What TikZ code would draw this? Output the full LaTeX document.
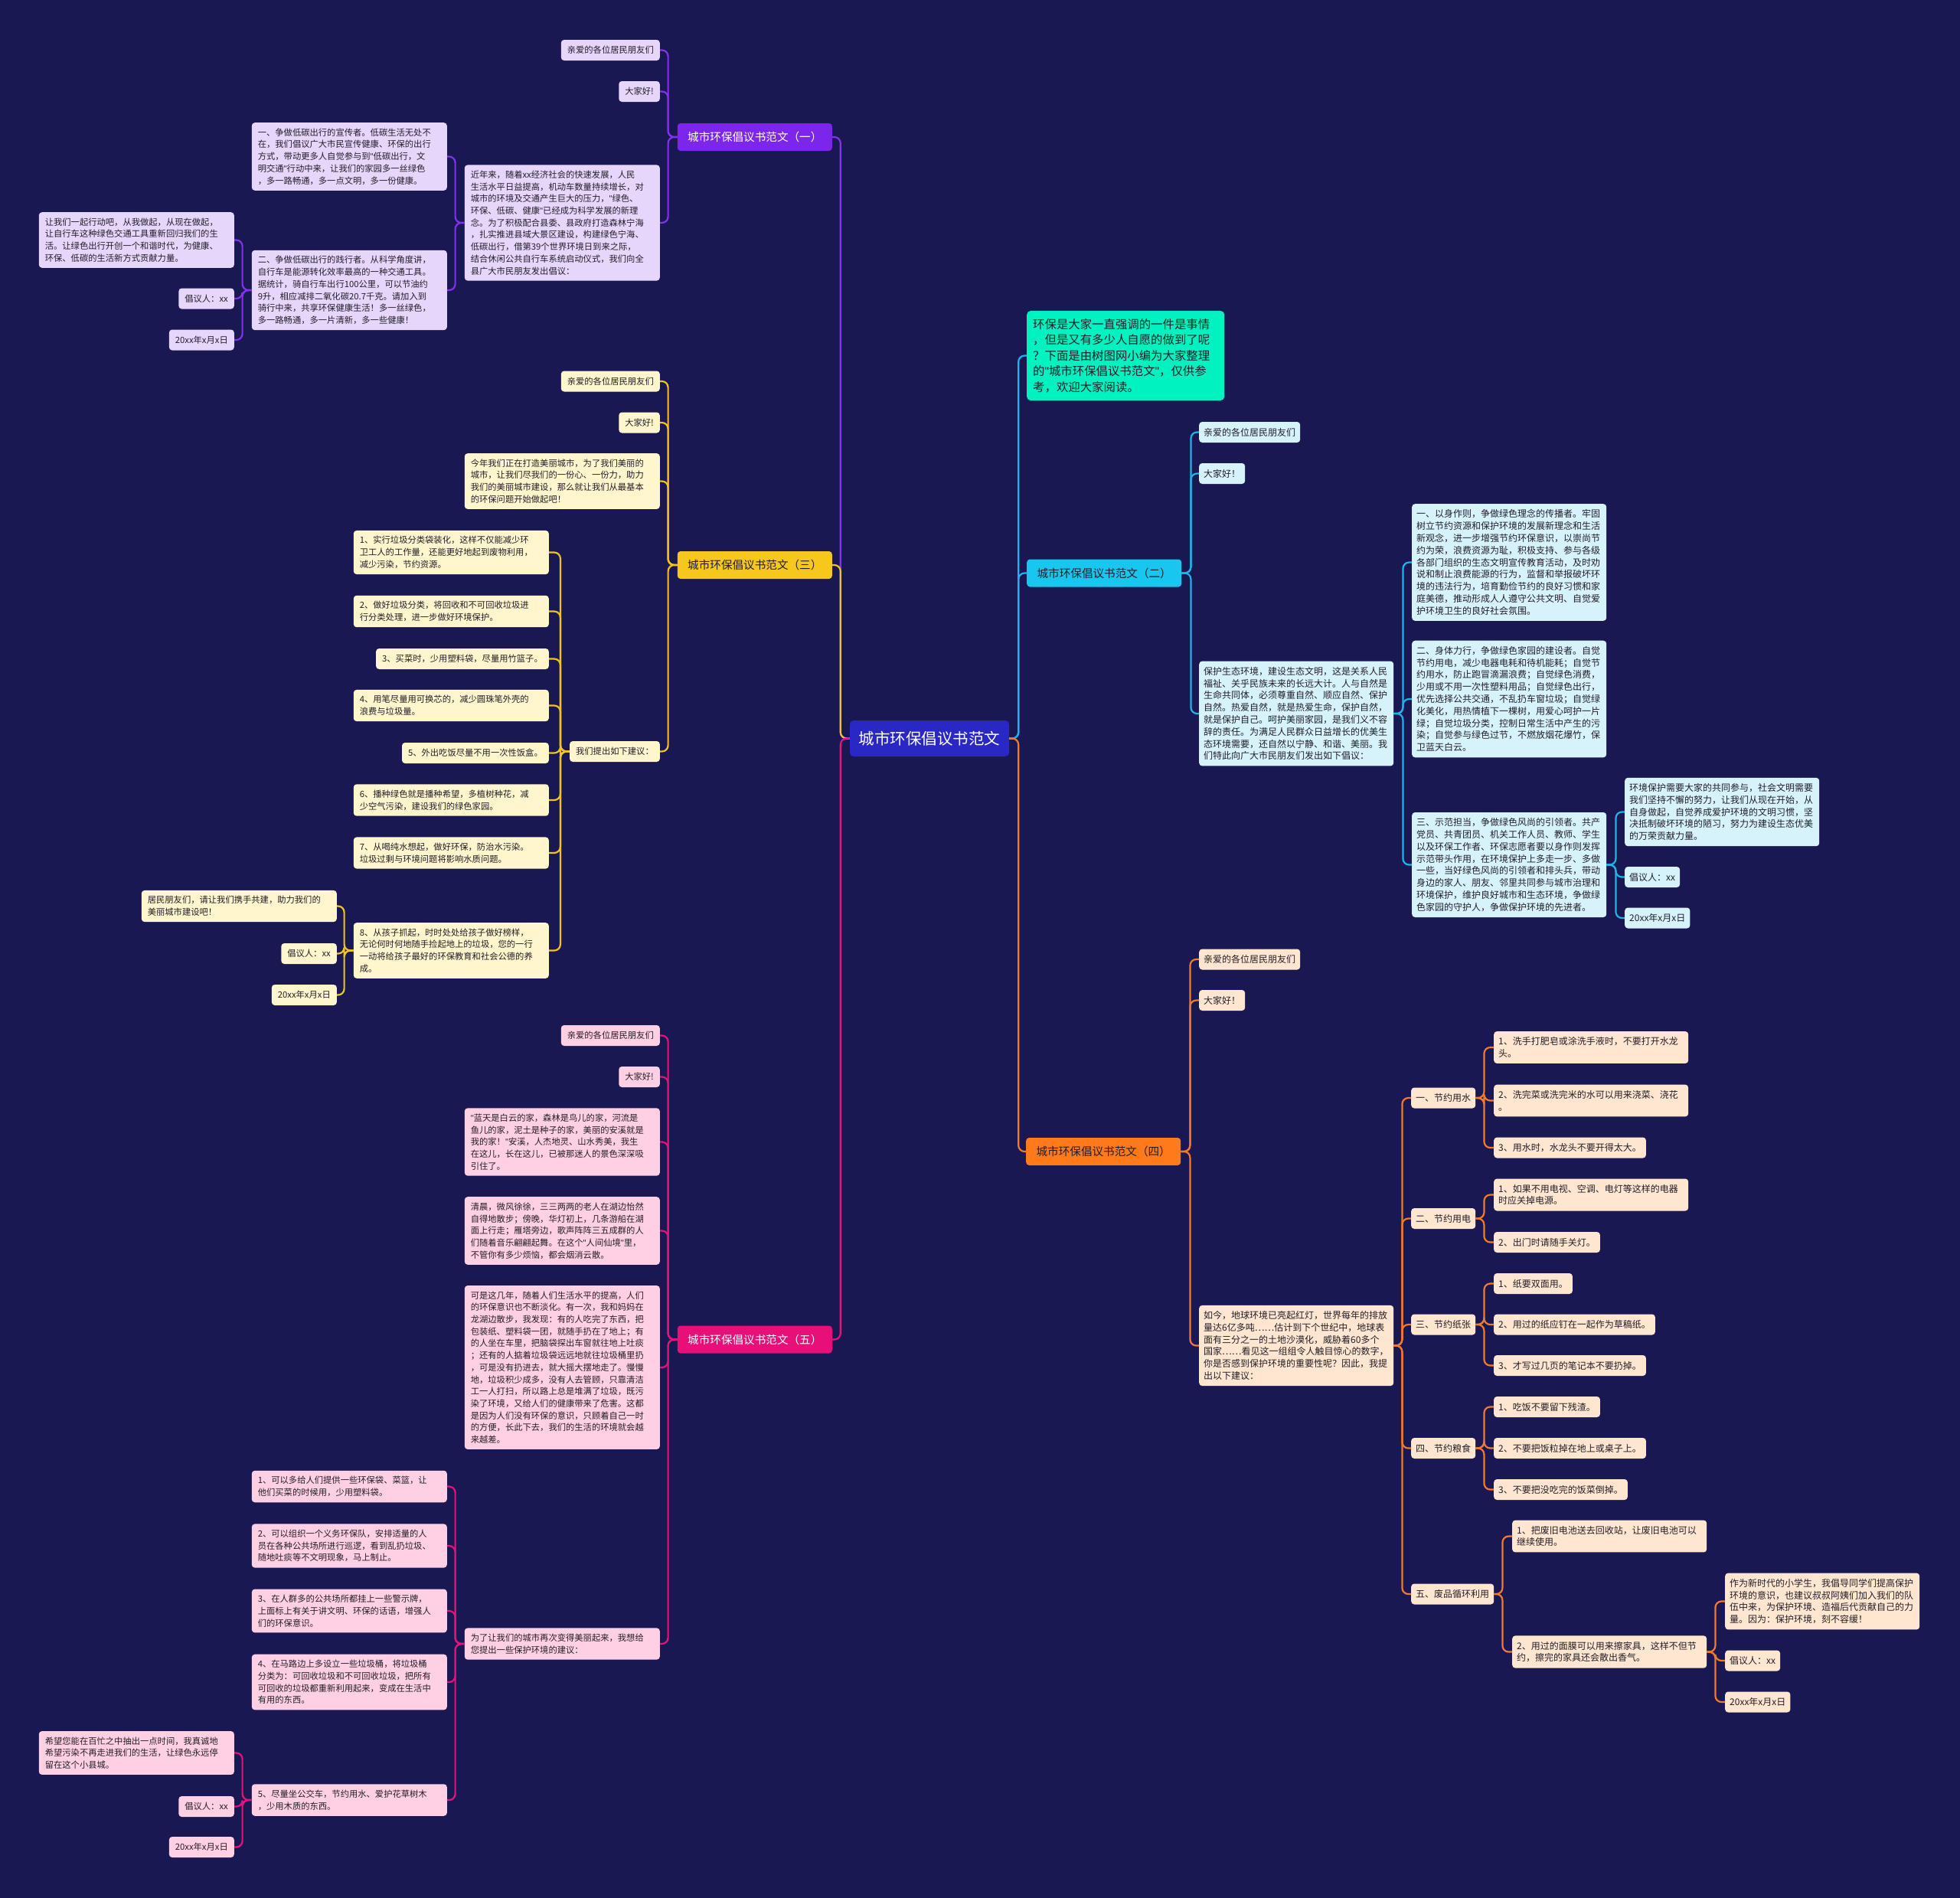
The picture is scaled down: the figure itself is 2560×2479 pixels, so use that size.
\documentclass[tikz,border=0pt]{standalone}
\usepackage{fontspec}
\setmainfont{Noto Sans CJK SC}
\newfontfamily\qfont{Liberation Sans}
\newcommand\qmark{{\qfont"}}
\usepackage{xcolor}
\usepackage{tikz}

\definecolor{bgnavy}{RGB}{26,24,82}
\definecolor{rootblue}{RGB}{42,40,196}
\definecolor{mintc}{RGB}{0,242,192}
\definecolor{txtdark}{RGB}{34,30,40}
\definecolor{purpleT}{RGB}{125,38,235}
\definecolor{purpleL}{RGB}{230,214,252}
\definecolor{purpleLn}{RGB}{130,50,235}
\definecolor{yellowT}{RGB}{246,200,30}
\definecolor{yellowL}{RGB}{255,246,205}
\definecolor{yellowLn}{RGB}{240,196,30}
\definecolor{pinkT}{RGB}{232,16,120}
\definecolor{pinkL}{RGB}{255,208,228}
\definecolor{pinkLn}{RGB}{226,20,124}
\definecolor{cyanT}{RGB}{24,198,238}
\definecolor{cyanL}{RGB}{214,243,251}
\definecolor{cyanLn}{RGB}{30,180,232}
\definecolor{orangeT}{RGB}{255,122,26}
\definecolor{orangeL}{RGB}{255,230,208}
\definecolor{orangeLn}{RGB}{240,122,45}

\begin{document}
\begin{tikzpicture}[x=1pt, y=-1pt,
            leaf/.style={rectangle, rounded corners=4pt, text=txtdark,
                    font=\fontsize{11.3}{15.7}\selectfont, align=left,
                    inner xsep=8pt, inner ysep=7.5pt, minimum height=27pt},
            leafR/.style={leaf, font=\fontsize{12}{15.8}\selectfont, inner xsep=6pt},
            wideL/.style={text width=239pt},
            wideR/.style={text width=242pt},
            leafP/.style={leaf, fill=purpleL},
            leafY/.style={leaf, fill=yellowL},
            leafK/.style={leaf, fill=pinkL},
            leafC/.style={leafR, fill=cyanL},
            leafO/.style={leafR, fill=orangeL},
            ttl/.style={rectangle, rounded corners=4pt, minimum width=202pt,
                    minimum height=36pt, font=\fontsize{14.6}{18}\selectfont},
            link/.style={line width=2.2pt, rounded corners=8pt},
            linkP/.style={link, draw=purpleLn},
            linkY/.style={link, draw=yellowLn},
            linkK/.style={link, draw=pinkLn},
            linkC/.style={link, draw=cyanLn},
            linkO/.style={link, draw=orangeLn}
            ]
            \fill[bgnavy] (0,0) rectangle (2560,2479);
            \useasboundingbox (0,0) rectangle (2560,2479);

            %% ---- Root ----
            \node[rectangle, rounded corners=5pt, fill=rootblue, text=white,
                  font=\fontsize{20.5}{24}\selectfont, minimum width=208pt,
                  minimum height=47pt] (root) at (1214,964.5) {城市环保倡议书范文};

            %% ---- Branch (一) ----
            \node[ttl, fill=purpleT, text=white, anchor=east] (t1) at (1087,179) {城市环保倡议书范文（一）};
            \node[leafP, anchor=east] (a1) at (862,65.5) {亲爱的各位居民朋友们};
            \node[leafP, anchor=east] (a2) at (862,119.5) {大家好!};
            \node[leafP, wideL, anchor=east] (a3) at (862,291) {
                近年来，随着xx经济社会的快速发展，人民\\
                生活水平日益提高，机动车数量持续增长，对\\
                城市的环境及交通产生巨大的压力，\qmark 绿色、\\
                环保、低碳、健康\qmark 已经成为科学发展的新理\\
                念。为了积极配合县委、县政府打造森林宁海\\
                ，扎实推进县域大景区建设，构建绿色宁海、\\
                低碳出行，借第39个世界环境日到来之际，\\
                结合休闲公共自行车系统启动仪式，我们向全\\
                县广大市民朋友发出倡议：};
            \node[leafP, wideL, anchor=east] (b1) at (584,204.5) {
                一、争做低碳出行的宣传者。低碳生活无处不\\
                在，我们倡议广大市民宣传健康、环保的出行\\
                方式，带动更多人自觉参与到\qmark 低碳出行，文\\
                明交通\qmark 行动中来，让我们的家园多一丝绿色\\
                ，多一路畅通，多一点文明，多一份健康。};
            \node[leafP, wideL, anchor=east] (b2) at (584,379) {
                二、争做低碳出行的践行者。从科学角度讲，\\
                自行车是能源转化效率最高的一种交通工具。\\
                据统计，骑自行车出行100公里，可以节油约\\
                9升，相应减排二氧化碳20.7千克。请加入到\\
                骑行中来，共享环保健康生活！多一丝绿色，\\
                多一路畅通，多一片清新，多一些健康！};
            \node[leafP, wideL, anchor=east] (c1) at (306,313.5) {
                让我们一起行动吧，从我做起，从现在做起，\\
                让自行车这种绿色交通工具重新回归我们的生\\
                活。让绿色出行开创一个和谐时代，为健康、\\
                环保、低碳的生活新方式贡献力量。};
            \node[leafP, anchor=east] (c2) at (306,390) {倡议人：xx};
            \node[leafP, anchor=east] (c3) at (306,444) {20xx年x月x日};

            %% ---- Branch (三) ----
            \node[ttl, fill=yellowT, text=txtdark, anchor=east] (t3) at (1087,738) {城市环保倡议书范文（三）};
            \node[leafY, anchor=east] (d1) at (862,498) {亲爱的各位居民朋友们};
            \node[leafY, anchor=east] (d2) at (862,552) {大家好!};
            \node[leafY, wideL, anchor=east] (d3) at (862,628.5) {
                今年我们正在打造美丽城市，为了我们美丽的\\
                城市，让我们尽我们的一份心、一份力，助力\\
                我们的美丽城市建设，那么就让我们从最基本\\
                的环保问题开始做起吧！};
            \node[leafY, anchor=east] (d4) at (862,981.5) {我们提出如下建议：};
            \node[leafY, wideL, anchor=east] (e1) at (717,721.5) {
                1、实行垃圾分类袋装化，这样不仅能减少环\\
                卫工人的工作量，还能更好地起到废物利用，\\
                减少污染，节约资源。};
            \node[leafY, wideL, anchor=east] (e2) at (717,798.5) {
                2、做好垃圾分类，将回收和不可回收垃圾进\\
                行分类处理，进一步做好环境保护。};
            \node[leafY, anchor=east] (e3) at (717,860.5) {3、买菜时，少用塑料袋，尽量用竹篮子。};
            \node[leafY, wideL, anchor=east] (e4) at (717,921.5) {
                4、用笔尽量用可换芯的，减少圆珠笔外壳的\\
                浪费与垃圾量。};
            \node[leafY, anchor=east] (e5) at (717,983.5) {5、外出吃饭尽量不用一次性饭盒。};
            \node[leafY, wideL, anchor=east] (e6) at (717,1045) {
                6、播种绿色就是播种希望，多植树种花，减\\
                少空气污染，建设我们的绿色家园。};
            \node[leafY, wideL, anchor=east] (e7) at (717,1114) {
                7、从喝纯水想起，做好环保，防治水污染。\\
                垃圾过剩与环境问题将影响水质问题。};
            \node[leafY, wideL, anchor=east] (e8) at (717,1241.5) {
                8、从孩子抓起，时时处处给孩子做好榜样，\\
                无论何时何地随手捡起地上的垃圾，您的一行\\
                一动将给孩子最好的环保教育和社会公德的养\\
                成。};
            \node[leafY, wideL, anchor=east] (f1) at (440,1183.5) {
                居民朋友们，请让我们携手共建，助力我们的\\
                美丽城市建设吧！};
            \node[leafY, anchor=east] (f2) at (440,1245.5) {倡议人：xx};
            \node[leafY, anchor=east] (f3) at (440,1299.5) {20xx年x月x日};

            %% ---- Branch (五) ----
            \node[ttl, fill=pinkT, text=white, anchor=east] (t5) at (1087,1749.5) {城市环保倡议书范文（五）};
            \node[leafK, anchor=east] (g1) at (862,1352.5) {亲爱的各位居民朋友们};
            \node[leafK, anchor=east] (g2) at (862,1406.5) {大家好!};
            \node[leafK, wideL, anchor=east] (g3) at (862,1491.5) {
                \qmark 蓝天是白云的家，森林是鸟儿的家，河流是\\
                鱼儿的家，泥土是种子的家，美丽的安溪就是\\
                我的家！\qmark 安溪，人杰地灵、山水秀美，我生\\
                在这儿，长在这儿，已被那迷人的景色深深吸\\
                引住了。};
            \node[leafK, wideL, anchor=east] (g4) at (862,1607.5) {
                清晨，微风徐徐，三三两两的老人在湖边怡然\\
                自得地散步；傍晚，华灯初上，几条游船在湖\\
                面上行走；雁塔旁边，歌声阵阵三五成群的人\\
                们随着音乐翩翩起舞。在这个\qmark 人间仙境\qmark 里，\\
                不管你有多少烦恼，都会烟消云散。};
            \node[leafK, wideL, anchor=east] (g5) at (862,1786) {
                可是这几年，随着人们生活水平的提高，人们\\
                的环保意识也不断淡化。有一次，我和妈妈在\\
                龙湖边散步，我发现：有的人吃完了东西，把\\
                包装纸、塑料袋一团，就随手扔在了地上；有\\
                的人坐在车里，把脑袋探出车窗就往地上吐痰\\
                ；还有的人掂着垃圾袋远远地就往垃圾桶里扔\\
                ，可是没有扔进去，就大摇大摆地走了。慢慢\\
                地，垃圾积少成多，没有人去管顾，只靠清洁\\
                工一人打扫，所以路上总是堆满了垃圾，既污\\
                染了环境，又给人们的健康带来了危害。这都\\
                是因为人们没有环保的意识，只顾着自己一时\\
                的方便，长此下去，我们的生活的环境就会越\\
                来越差。};
            \node[leafK, wideL, anchor=east] (g6) at (862,2147) {
                为了让我们的城市再次变得美丽起来，我想给\\
                您提出一些保护环境的建议：};
            \node[leafK, wideL, anchor=east] (h1) at (584,1941.5) {
                1、可以多给人们提供一些环保袋、菜篮，让\\
                他们买菜的时候用，少用塑料袋。};
            \node[leafK, wideL, anchor=east] (h2) at (584,2019) {
                2、可以组织一个义务环保队，安排适量的人\\
                员在各种公共场所进行巡逻，看到乱扔垃圾、\\
                随地吐痰等不文明现象，马上制止。};
            \node[leafK, wideL, anchor=east] (h3) at (584,2104) {
                3、在人群多的公共场所都挂上一些警示牌，\\
                上面标上有关于讲文明、环保的话语，增强人\\
                们的环保意识。};
            \node[leafK, wideL, anchor=east] (h4) at (584,2197) {
                4、在马路边上多设立一些垃圾桶，将垃圾桶\\
                分类为：可回收垃圾和不可回收垃圾，把所有\\
                可回收的垃圾都重新利用起来，变成在生活中\\
                有用的东西。};
            \node[leafK, wideL, anchor=east] (h5) at (584,2351) {
                5、尽量坐公交车，节约用水、爱护花草树木\\
                ，少用木质的东西。};
            \node[leafK, wideL, anchor=east] (i1) at (306,2289.5) {
                希望您能在百忙之中抽出一点时间，我真诚地\\
                希望污染不再走进我们的生活，让绿色永远停\\
                留在这个小县城。};
            \node[leafK, anchor=east] (i2) at (306,2359.5) {倡议人：xx};
            \node[leafK, anchor=east] (i3) at (306,2412.5) {20xx年x月x日};

            %% ---- Intro ----
            \node[rectangle, rounded corners=5pt, fill=mintc, text=txtdark, align=left,
                  font=\fontsize{15.4}{20.6}\selectfont, text width=242pt,
                  inner xsep=8pt, inner ysep=10pt, anchor=west] (intro) at (1341,464.5) {
                环保是大家一直强调的一件是事情\\
                ，但是又有多少人自愿的做到了呢\\
                ？下面是由树图网小编为大家整理\\
                的\qmark 城市环保倡议书范文\qmark ，仅供参\\
                考，欢迎大家阅读。};

            %% ---- Branch (二) ----
            \node[ttl, fill=cyanT, text=txtdark, anchor=west] (t2) at (1341,748.5) {城市环保倡议书范文（二）};
            \node[leafC, anchor=west] (j1) at (1566,564.5) {亲爱的各位居民朋友们};
            \node[leafC, anchor=west] (j2) at (1566,618.5) {大家好！};
            \node[leafC, wideR, anchor=west] (j3) at (1566,932) {
                保护生态环境，建设生态文明，这是关系人民\\
                福祉、关乎民族未来的长远大计。人与自然是\\
                生命共同体，必须尊重自然、顺应自然、保护\\
                自然。热爱自然，就是热爱生命，保护自然，\\
                就是保护自己。呵护美丽家园，是我们义不容\\
                辞的责任。为满足人民群众日益增长的优美生\\
                态环境需要，还自然以宁静、和谐、美丽。我\\
                们特此向广大市民朋友们发出如下倡议：};
            \node[leafC, wideR, anchor=west] (k1) at (1844,734.5) {
                一、以身作则，争做绿色理念的传播者。牢固\\
                树立节约资源和保护环境的发展新理念和生活\\
                新观念，进一步增强节约环保意识，以崇尚节\\
                约为荣，浪费资源为耻，积极支持、参与各级\\
                各部门组织的生态文明宣传教育活动，及时劝\\
                说和制止浪费能源的行为，监督和举报破坏环\\
                境的违法行为，培育勤俭节约的良好习惯和家\\
                庭美德，推动形成人人遵守公共文明、自觉爱\\
                护环境卫生的良好社会氛围。};
            \node[leafC, wideR, anchor=west] (k2) at (1844,913) {
                二、身体力行，争做绿色家园的建设者。自觉\\
                节约用电，减少电器电耗和待机能耗；自觉节\\
                约用水，防止跑冒滴漏浪费；自觉绿色消费，\\
                少用或不用一次性塑料用品；自觉绿色出行，\\
                优先选择公共交通，不乱扔车窗垃圾；自觉绿\\
                化美化，用热情植下一棵树，用爱心呵护一片\\
                绿；自觉垃圾分类，控制日常生活中产生的污\\
                染；自觉参与绿色过节，不燃放烟花爆竹，保\\
                卫蓝天白云。};
            \node[leafC, wideR, anchor=west] (k3) at (1844,1129.5) {
                三、示范担当，争做绿色风尚的引领者。共产\\
                党员、共青团员、机关工作人员、教师、学生\\
                以及环保工作者、环保志愿者要以身作则发挥\\
                示范带头作用，在环境保护上多走一步、多做\\
                一些，当好绿色风尚的引领者和排头兵，带动\\
                身边的家人、朋友、邻里共同参与城市治理和\\
                环境保护，维护良好城市和生态环境，争做绿\\
                色家园的守护人，争做保护环境的先进者。};
            \node[leafC, wideR, anchor=west] (l1) at (2122,1060.5) {
                环境保护需要大家的共同参与，社会文明需要\\
                我们坚持不懈的努力，让我们从现在开始，从\\
                自身做起，自觉养成爱护环境的文明习惯，坚\\
                决抵制破坏环境的陋习，努力为建设生态优美\\
                的万荣贡献力量。};
            \node[leafC, anchor=west] (l2) at (2122,1145.5) {倡议人：xx};
            \node[leafC, anchor=west] (l3) at (2122,1199) {20xx年x月x日};

            %% ---- Branch (四) ----
            \node[ttl, fill=orangeT, text=txtdark, anchor=west] (t4) at (1340,1504) {城市环保倡议书范文（四）};
            \node[leafO, anchor=west] (m1) at (1566,1253) {亲爱的各位居民朋友们};
            \node[leafO, anchor=west] (m2) at (1566,1306.5) {大家好！};
            \node[leafO, wideR, anchor=west] (m3) at (1566,1757.5) {
                如今，地球环境已亮起红灯，世界每年的排放\\
                量达6亿多吨……估计到下个世纪中，地球表\\
                面有三分之一的土地沙漠化，威胁着60多个\\
                国家……看见这一组组令人触目惊心的数字，\\
                你是否感到保护环境的重要性呢？因此，我提\\
                出以下建议：};
            \node[leafO, anchor=west] (n1) at (1843,1434) {一、节约用水};
            \node[leafO, anchor=west] (n2) at (1843,1591.5) {二、节约用电};
            \node[leafO, anchor=west] (n3) at (1843,1730) {三、节约纸张};
            \node[leafO, anchor=west] (n4) at (1843,1891.5) {四、节约粮食};
            \node[leafO, anchor=west] (n5) at (1843,2082) {五、废品循环利用};
            \node[leafO, wideR, anchor=west] (o11) at (1951,1368) {
                1、洗手打肥皂或涂洗手液时，不要打开水龙\\
                头。};
            \node[leafO, wideR, anchor=west] (o12) at (1951,1437.5) {
                2、洗完菜或洗完米的水可以用来浇菜、浇花\\
                。};
            \node[leafO, anchor=west] (o13) at (1951,1499) {3、用水时，水龙头不要开得太大。};
            \node[leafO, wideR, anchor=west] (o21) at (1951,1560.5) {
                1、如果不用电视、空调、电灯等这样的电器\\
                时应关掉电源。};
            \node[leafO, anchor=west] (o22) at (1951,1622.5) {2、出门时请随手关灯。};
            \node[leafO, anchor=west] (o31) at (1951,1676.5) {1、纸要双面用。};
            \node[leafO, anchor=west] (o32) at (1951,1730) {2、用过的纸应钉在一起作为草稿纸。};
            \node[leafO, anchor=west] (o33) at (1951,1783.5) {3、才写过几页的笔记本不要扔掉。};
            \node[leafO, anchor=west] (o41) at (1951,1837.5) {1、吃饭不要留下残渣。};
            \node[leafO, anchor=west] (o42) at (1951,1891.5) {2、不要把饭粒掉在地上或桌子上。};
            \node[leafO, anchor=west] (o43) at (1951,1945.5) {3、不要把没吃完的饭菜倒掉。};
            \node[leafO, wideR, anchor=west] (o51) at (1975,2006.5) {
                1、把废旧电池送去回收站，让废旧电池可以\\
                继续使用。};
            \node[leafO, wideR, anchor=west] (o52) at (1975,2157.5) {
                2、用过的面膜可以用来擦家具，这样不但节\\
                约，擦完的家具还会散出香气。};
            \node[leafO, wideR, anchor=west] (p1) at (2253,2091.5) {
                作为新时代的小学生，我倡导同学们提高保护\\
                环境的意识，也建议叔叔阿姨们加入我们的队\\
                伍中来，为保护环境、造福后代贡献自己的力\\
                量。因为：保护环境，刻不容缓！};
            \node[leafO, anchor=west] (p2) at (2253,2169) {倡议人：xx};
            \node[leafO, anchor=west] (p3) at (2253,2223) {20xx年x月x日};

            %% ---- Connectors ----
            % root to the main branches
            \draw[linkP] (root.west) -- ++(-12,0) |- (t1.east);
            \draw[linkY] (root.west) -- ++(-12,0) |- (t3.east);
            \draw[linkK] (root.west) -- ++(-12,0) |- (t5.east);
            \draw[linkC] (root.east) -- ++(12,0) |- (intro.west);
            \draw[linkC] (root.east) -- ++(12,0) |- (t2.west);
            \draw[linkO] (root.east) -- ++(12,0) |- (t4.west);
            % branch (一)
            \draw[linkP] (t1.west) -- ++(-12,0) |- (a1.east);
            \draw[linkP] (t1.west) -- ++(-12,0) |- (a2.east);
            \draw[linkP] (t1.west) -- ++(-12,0) |- (a3.east);
            \draw[linkP] (a3.west) -- ++(-12,0) |- (b1.east);
            \draw[linkP] (a3.west) -- ++(-12,0) |- (b2.east);
            \draw[linkP] (b2.west) -- ++(-12,0) |- (c1.east);
            \draw[linkP] (b2.west) -- ++(-12,0) |- (c2.east);
            \draw[linkP] (b2.west) -- ++(-12,0) |- (c3.east);
            % branch (三)
            \draw[linkY] (t3.west) -- ++(-12,0) |- (d1.east);
            \draw[linkY] (t3.west) -- ++(-12,0) |- (d2.east);
            \draw[linkY] (t3.west) -- ++(-12,0) |- (d3.east);
            \draw[linkY] (t3.west) -- ++(-12,0) |- (d4.east);
            \draw[linkY] (d4.west) -- ++(-12,0) |- (e1.east);
            \draw[linkY] (d4.west) -- ++(-12,0) |- (e2.east);
            \draw[linkY] (d4.west) -- ++(-12,0) |- (e3.east);
            \draw[linkY] (d4.west) -- ++(-12,0) |- (e4.east);
            \draw[linkY] (d4.west) -- ++(-12,0) |- (e5.east);
            \draw[linkY] (d4.west) -- ++(-12,0) |- (e6.east);
            \draw[linkY] (d4.west) -- ++(-12,0) |- (e7.east);
            \draw[linkY] (d4.west) -- ++(-12,0) |- (e8.east);
            \draw[linkY] (e8.west) -- ++(-12,0) |- (f1.east);
            \draw[linkY] (e8.west) -- ++(-12,0) |- (f2.east);
            \draw[linkY] (e8.west) -- ++(-12,0) |- (f3.east);
            % branch (五)
            \draw[linkK] (t5.west) -- ++(-12,0) |- (g1.east);
            \draw[linkK] (t5.west) -- ++(-12,0) |- (g2.east);
            \draw[linkK] (t5.west) -- ++(-12,0) |- (g3.east);
            \draw[linkK] (t5.west) -- ++(-12,0) |- (g4.east);
            \draw[linkK] (t5.west) -- ++(-12,0) |- (g5.east);
            \draw[linkK] (t5.west) -- ++(-12,0) |- (g6.east);
            \draw[linkK] (g6.west) -- ++(-12,0) |- (h1.east);
            \draw[linkK] (g6.west) -- ++(-12,0) |- (h2.east);
            \draw[linkK] (g6.west) -- ++(-12,0) |- (h3.east);
            \draw[linkK] (g6.west) -- ++(-12,0) |- (h4.east);
            \draw[linkK] (g6.west) -- ++(-12,0) |- (h5.east);
            \draw[linkK] (h5.west) -- ++(-12,0) |- (i1.east);
            \draw[linkK] (h5.west) -- ++(-12,0) |- (i2.east);
            \draw[linkK] (h5.west) -- ++(-12,0) |- (i3.east);
            % branch (二)
            \draw[linkC] (t2.east) -- ++(12,0) |- (j1.west);
            \draw[linkC] (t2.east) -- ++(12,0) |- (j2.west);
            \draw[linkC] (t2.east) -- ++(12,0) |- (j3.west);
            \draw[linkC] (j3.east) -- ++(12,0) |- (k1.west);
            \draw[linkC] (j3.east) -- ++(12,0) |- (k2.west);
            \draw[linkC] (j3.east) -- ++(12,0) |- (k3.west);
            \draw[linkC] (k3.east) -- ++(12,0) |- (l1.west);
            \draw[linkC] (k3.east) -- ++(12,0) |- (l2.west);
            \draw[linkC] (k3.east) -- ++(12,0) |- (l3.west);
            % branch (四)
            \draw[linkO] (t4.east) -- ++(12,0) |- (m1.west);
            \draw[linkO] (t4.east) -- ++(12,0) |- (m2.west);
            \draw[linkO] (t4.east) -- ++(12,0) |- (m3.west);
            \draw[linkO] (m3.east) -- ++(11,0) |- (n1.west);
            \draw[linkO] (m3.east) -- ++(11,0) |- (n2.west);
            \draw[linkO] (m3.east) -- ++(11,0) |- (n3.west);
            \draw[linkO] (m3.east) -- ++(11,0) |- (n4.west);
            \draw[linkO] (m3.east) -- ++(11,0) |- (n5.west);
            \draw[linkO] (n1.east) -- ++(11,0) |- (o11.west);
            \draw[linkO] (n1.east) -- ++(11,0) |- (o12.west);
            \draw[linkO] (n1.east) -- ++(11,0) |- (o13.west);
            \draw[linkO] (n2.east) -- ++(11,0) |- (o21.west);
            \draw[linkO] (n2.east) -- ++(11,0) |- (o22.west);
            \draw[linkO] (n3.east) -- ++(11,0) |- (o31.west);
            \draw[linkO] (n3.east) -- ++(11,0) |- (o32.west);
            \draw[linkO] (n3.east) -- ++(11,0) |- (o33.west);
            \draw[linkO] (n4.east) -- ++(11,0) |- (o41.west);
            \draw[linkO] (n4.east) -- ++(11,0) |- (o42.west);
            \draw[linkO] (n4.east) -- ++(11,0) |- (o43.west);
            \draw[linkO] (n5.east) -- ++(11,0) |- (o51.west);
            \draw[linkO] (n5.east) -- ++(11,0) |- (o52.west);
            \draw[linkO] (o52.east) -- ++(11,0) |- (p1.west);
            \draw[linkO] (o52.east) -- ++(11,0) |- (p2.west);
            \draw[linkO] (o52.east) -- ++(11,0) |- (p3.west);
        \end{tikzpicture}
\end{document}
